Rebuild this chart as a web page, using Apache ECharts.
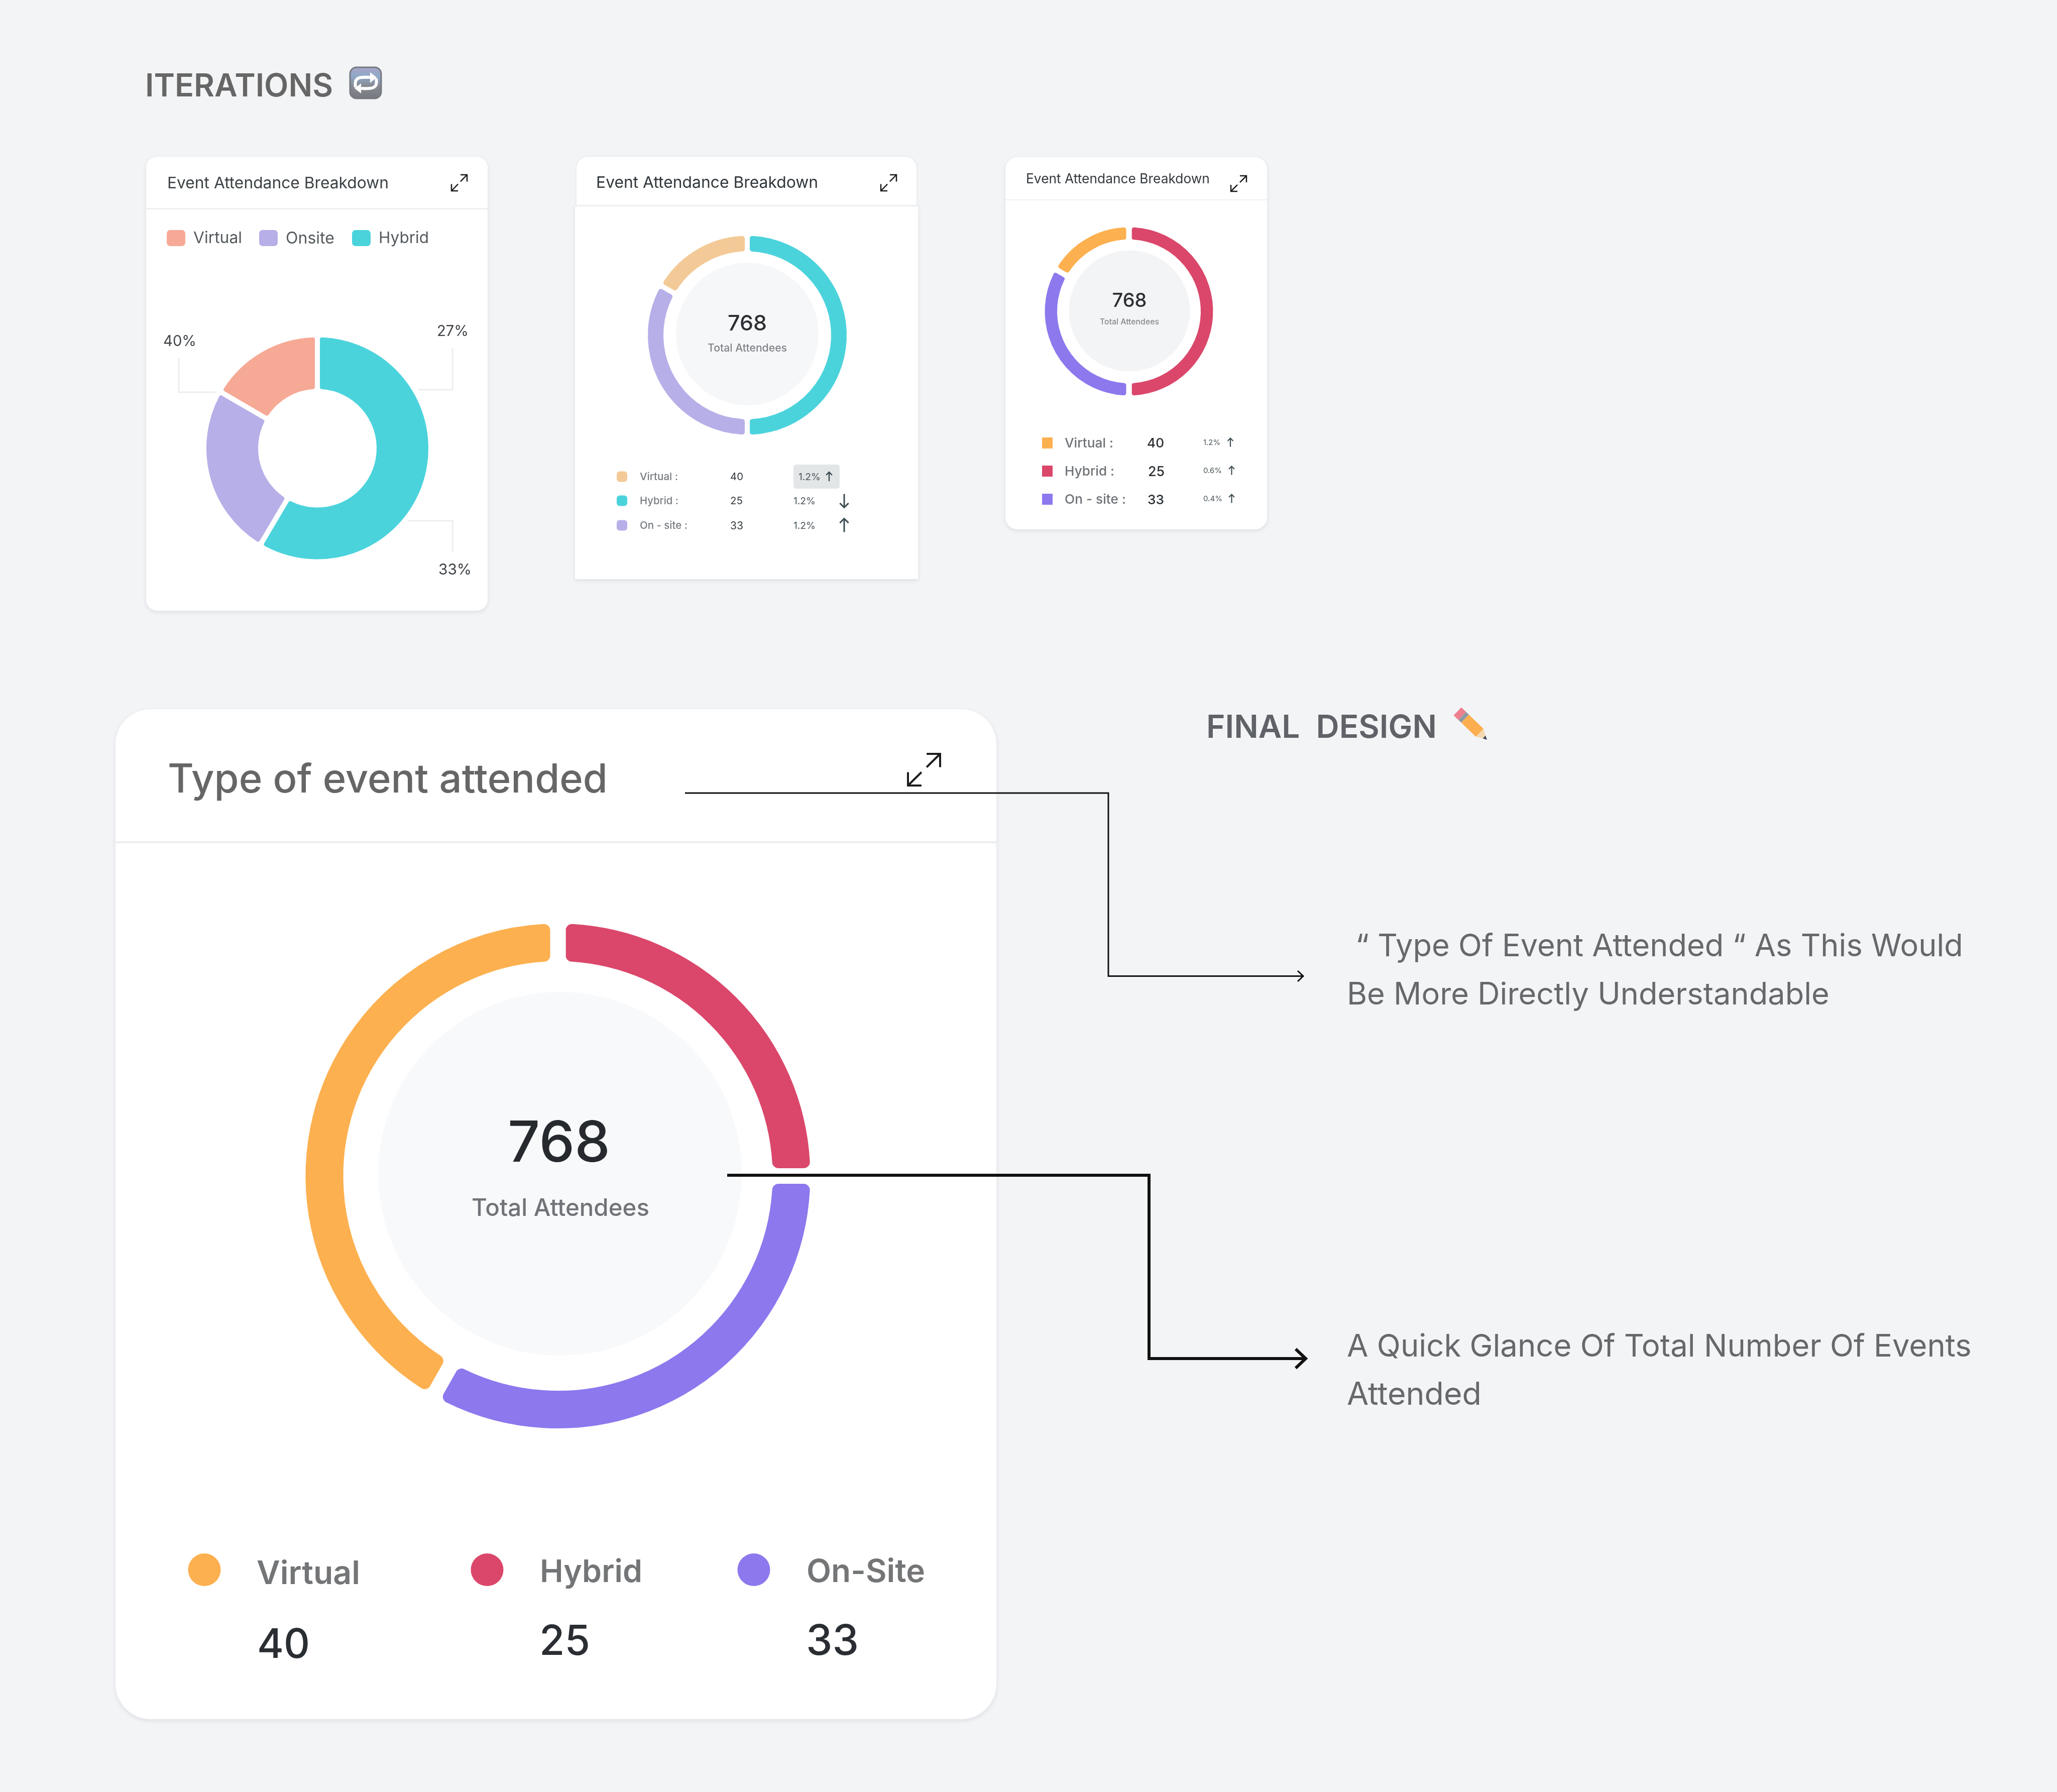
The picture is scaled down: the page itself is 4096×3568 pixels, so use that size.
<!DOCTYPE html>
<html><head><meta charset="utf-8">
<style>html,body{margin:0;padding:0;background:#f3f4f6}#c{width:4096px;height:3568px}</style>
<script src="https://cdn.jsdelivr.net/npm/echarts@6/dist/echarts.min.js"></script>
</head><body><div id="c"></div>
<script>
// ---- data ----
const cardTitle = 'Event Attendance Breakdown';
const finalTitle = 'Type of event attended';
const totalValue = '768';
const totalLabel = 'Total Attendees';

const draftANames = ['Hybrid', 'Onsite', 'Virtual'];
const draftAShares = [58.5, 24.9, 16.6];
const draftALegend = ['Virtual', 'Onsite', 'Hybrid'];
const draftACallouts = ['40%', '27%', '33%'];

const draftBNames = ['Hybrid', 'On - site', 'Virtual'];
const draftBShares = [50, 33.3, 16.7];
const draftBRows = ['Virtual :', 'Hybrid :', 'On - site :'];
const draftBValues = ['40', '25', '33'];
const draftBChange = ['1.2%', '1.2%', '1.2%'];

const draftCNames = ['Hybrid', 'On - site', 'Virtual'];
const draftCShares = [50, 33.3, 16.7];
const draftCRows = ['Virtual :', 'Hybrid :', 'On - site :'];
const draftCValues = ['40', '25', '33'];
const draftCChange = ['1.2%', '0.6%', '0.4%'];

const finalNames = ['Hybrid', 'On-Site', 'Virtual'];
const finalShares = [25, 33.2, 41.8];
const finalLegend = ['Virtual', 'Hybrid', 'On-Site'];
const finalValues = ['40', '25', '33'];

const noteOne = ['\u201C Type Of Event Attended \u201C As This Would', 'Be More Directly Understandable'];
const noteTwo = ['A Quick Glance Of Total Number Of Events', 'Attended'];

// ---- helpers ----
const FONT = 'Inter';
const mctx = document.createElement('canvas').getContext('2d');
function fit(text, wt, w) {
  mctx.font = wt + ' 100px ' + FONT;
  return 100 * w / mctx.measureText(text).width;
}
const g = [];
function T(text, x, y, w, fill, wt, align) {
  const size = fit(text, wt || 400, w);
  g.push({type:'text', z:20, x, y:y+size*0.06, silent:true, style:{text, fill, font:(wt||400)+' '+size.toFixed(2)+'px '+FONT,
    textAlign:align||'left', textVerticalAlign:'middle', align:align||'left', verticalAlign:'middle'}});
}
function R(x0,y0,x1,y1,fill,r,extra,z){
  g.push({type:'rect', z:z==null?1:z, silent:true, shape:{x:x0,y:y0,width:x1-x0,height:y1-y0,r:r||0}, style:Object.assign({fill},extra||{})});
}
function C(cx,cy,r,fill,z){
  g.push({type:'circle', z:z==null?1:z, silent:true, shape:{cx,cy,r}, style:{fill}});
}
function L(points,stroke,lw,z,smooth){
  g.push({type:'polyline', z:z==null?15:z, silent:true, shape:{points,smooth:smooth||0}, style:{stroke,lineWidth:lw,fill:null,lineCap:'butt',lineJoin:'miter'}});
}
function P(points,fill,z){
  g.push({type:'polygon', z:z==null?20:z, silent:true, shape:{points}, style:{fill}});
}
function expand(x0,y0,x1,y1,lw){
  const w=x1-x0,h=y1-y0;
  const s='#1c1c1c';
  L([[x0,y1],[x0+w*.42,y1-h*.42]],s,lw,20);
  L([[x0,y1-h*.42],[x0,y1],[x0+w*.42,y1]],s,lw,20);
  L([[x1,y0],[x1-w*.42,y0+h*.42]],s,lw,20);
  L([[x1-w*.42,y0],[x1,y0],[x1,y0+h*.42]],s,lw,20);
}
function vArrow(x,cy,h,up,lw){
  const c='#3d4d52',d=up?-1:1,hw=h*.32;
  L([[x,cy-d*h/2],[x,cy+d*h/2]],c,lw,20);
  L([[x-hw,cy+d*(h/2-hw)],[x,cy+d*h/2],[x+hw,cy+d*(h/2-hw)]],c,lw,20);
}
const shadow={shadowColor:'rgba(30,40,60,0.10)',shadowBlur:8,shadowOffsetY:3};
function ring(name,cx,cy,rIn,rOut,gap,rad,shares,names,colors){
  return {type:'pie',name,silent:true,animation:false,z:5,center:[cx,cy],
    radius:[rIn-gap/2,rOut+gap/2],startAngle:90,clockwise:true,
    label:{show:false},labelLine:{show:false},
    itemStyle:{borderColor:'#fff',borderWidth:gap,borderRadius:rad},
    data:shares.map((v,i)=>({value:v,name:names[i],itemStyle:{color:colors[i]}}))};
}

// ---- section headers and icons ----
T('ITERATIONS',289,169,374,'#666666',600);
T('FINAL  DESIGN',2402,1446,459,'#5f6266',600);
g.push({type:'rect',z:20,silent:true,shape:{x:697,y:134,width:62,height:62,r:13},style:{
  fill:new echarts.graphic.LinearGradient(0,0,0,1,[{offset:0,color:'#a9a4c6'},{offset:.3,color:'#8fa9c8'},{offset:.6,color:'#878a92'},{offset:1,color:'#74777b'}]),
  stroke:'#767b80',lineWidth:3}});
L([[708,174],[708,162],[713,156],[722,154],[738,154]],'#fff',6,21,0.4);
P([[737,144],[750,154],[737,165]],'#fff',21);
L([[749,156],[749,168],[744,174],[735,176],[719,176]],'#fff',6,21,0.4);
P([[719,166],[706,176],[719,186]],'#fff',21);
// pencil
(function(){
  const A=[2905,1419],B=[2961,1473];
  const dx=B[0]-A[0],dy=B[1]-A[1],len=Math.hypot(dx,dy),ux=dx/len,uy=dy/len,px=-uy,py=ux;
  const hw=11;
  const at=(t,o)=>[A[0]+dx*t+px*o,A[1]+dy*t+py*o];
  const band=(t0,t1,c)=>P([at(t0,hw),at(t1,hw),at(t1,-hw),at(t0,-hw)],c);
  band(-.05,.12,'#ec7f8d'); band(.12,.22,'#8e9aa4'); band(.22,.74,'#fdae4e');
  P([at(.74,hw),at(.9,hw*.35),at(.9,-hw*.35),at(.74,-hw)],'#f4d7ae');
  P([at(.9,hw*.35),at(1,0),at(.9,-hw*.35)],'#3a4252');
})();

// ---- card 1 ----
R(291,312,971,1216,'#ffffff',22,shadow,1);
R(291,414,971,417,'#eef0f2',0,null,2);
T(cardTitle,333,364,441,'#3b4144');
expand(899,348,930,380,2.5);
const aSw=['#f6a995','#b7afe8','#4bd3dc'];
[[332,385],[516,569],[701,754]].forEach((p,i)=>{
  R(p[0],458,p[0]+37,490,aSw[i],7,null,2);
  T(draftALegend[i],p[1],473,[97,97,100][i],'#555a5e');
});
L([[356,713],[356,781],[429,781]],'#eceef0',3);
L([[901,693],[901,776],[833,776]],'#eceef0',3);
L([[901,1100],[901,1037],[812,1037]],'#eceef0',3);
T(draftACallouts[0],325,678,66,'#3f4448');
T(draftACallouts[1],870,658,63,'#3f4448');
T(draftACallouts[2],873,1133,66,'#3f4448');

// ---- card 2 ----
R(1145,409,1828,1153,'#ffffff',0,shadow,1);
R(1147,311,1826,410,'#ffffff',[24,24,0,0],{stroke:'#eaecee',lineWidth:2},2);
R(1145,408,1828,411,'#eceef0',0,null,3);
T(cardTitle,1187,363,442,'#30363a');
expand(1754,348,1785,380,2.5);
C(1488,665,142,'#f6f7f9');
T(totalValue,1488,643,78,'#2c3034',500,'center');
T(totalLabel,1488,692,158,'#808488',500,'center');
const bSw=['#f3ca97','#4bd3dc','#b7afe8'];
const bY=[949,997,1046];
R(1580,925,1672,973,'#e3e6e7',5,null,2);
draftBRows.forEach((t,i)=>{
  R(1228,bY[i]-10.5,1249,bY[i]+10.5,bSw[i],6,null,2);
  T(t,1274,bY[i],[76,77,95][i],'#777b80',500);
  T(draftBValues[i],1454,bY[i],[26,25,26][i],'#3a3e42',400);
  T(draftBChange[i],i?1580:1590,bY[i],44,'#4a555a',400);
});
vArrow(1651,949,18,true,2.5);
vArrow(1681,997,27,false,3);
vArrow(1681,1046,27,true,3);

// ---- card 3 ----
R(2002,313,2523,1054,'#ffffff',24,shadow,1);
R(2002,397,2523,399,'#eef0f2',0,null,2);
T(cardTitle,2043,355,366,'#33393d');
expand(2451,350,2482,381,2.5);
C(2249,619,120.5,'#f3f4f6');
T(totalValue,2249,597,69,'#2c3034',500,'center');
T(totalLabel,2249,640,118,'#868a8e',500,'center');
const cSw=['#fdb04f','#da476b','#8d78ee'];
const cY=[882,938,994];
draftCRows.forEach((t,i)=>{
  R(2075,cY[i]-11,2096,cY[i]+11,cSw[i],0,null,2);
  T(t,2120,cY[i],[97,99,122][i],'#6f7377',500);
  T(draftCValues[i],[2284,2286,2285][i],cY[i],[34,33,33][i],'#2c3034',500);
  T(draftCChange[i],2396,cY[i]-1,[34,37,38][i],'#4a555a');
  vArrow([2450,2452.5,2452.5][i],cY[i]-1,17,true,2.2);
});

// ---- final card ----
R(230,1412,1984,3423,'#ffffff',70,{shadowColor:'rgba(30,40,60,0.10)',shadowBlur:10,shadowOffsetY:3},1);
R(230,1675,1984,1679,'#eceef0',0,null,2);
T(finalTitle,334,1549,876,'#666666',500);
expand(1808,1501,1872,1564,4);
C(1115,2337,362,'#f8f9fb');
T(totalValue,1113,2272,204,'#262a2e',500,'center');
T(totalLabel,1116,2404,354,'#707377',500,'center');
const fSw=['#fdb04f','#da476b','#8d78ee'];
[[407,511,512,3131,3272,206,105],[970,1075,1074,3127,3265,204,101],[1501,1606,1605,3127,3265,236,105]].forEach((p,i)=>{
  C(p[0],3125.5,32.5,fSw[i],2);
  T(finalLegend[i],p[1],p[3],p[5],'#737577',600);
  T(finalValues[i],p[2],p[4],p[6],'#2a2e33',500);
});

// ---- annotations ----
L([[1364,1579],[2207,1579],[2207,1943.5],[2594,1943.5]],'#111',3);
L([[2584,1933],[2595,1943.5],[2584,1954]],'#111',3);
L([[1448,2340],[2288,2340],[2288,2705],[2598,2705]],'#111',6);
L([[2580,2686],[2600,2705],[2580,2724]],'#111',6);
T(noteOne[0],2699,1882,1210,'#66686c');
T(noteOne[1],2682,1978,961,'#66686c');
T(noteTwo[0],2682,2679,1244,'#66686c');
T(noteTwo[1],2682,2774,268,'#66686c');

const option={
  backgroundColor:'#f3f4f6',animation:false,tooltip:{show:false},legend:{show:false},
  graphic:{elements:g},
  series:[
    ring('Draft A',632,892.5,118,221,10,9,draftAShares,draftANames,['#4bd3dc','#b7afe8','#f6a995']),
    ring('Draft B',1488,667.5,167,198,10,10,draftBShares,draftBNames,['#4bd3dc','#b7afe8','#f3ca97']),
    ring('Draft C',2248,620,143,167.5,11,10,draftCShares,draftCNames,['#da476b','#8d78ee','#fdb04f']),
    ring('Final',1111,2341.5,427.5,502.5,31,28,finalShares,finalNames,['#da476b','#8d78ee','#fdb04f'])
  ]
};
const chart=echarts.init(document.getElementById('c'),null,{renderer:'canvas',width:4096,height:3568,devicePixelRatio:1});
chart.setOption(option);
</script></body></html>
